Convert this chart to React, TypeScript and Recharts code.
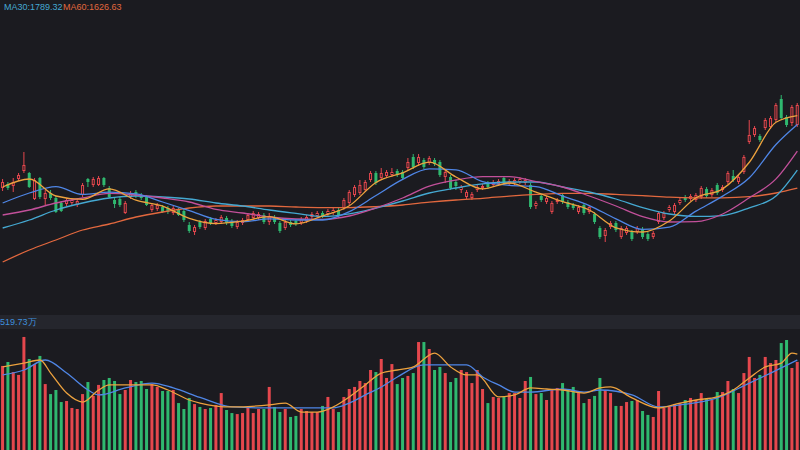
import React from 'react';
import { ComposedChart, Bar, Line, XAxis, YAxis, Cell } from 'recharts';

// ---------- data (price in index points, volume in 万) ----------
const opens = [
  1628, 1664, 1646, 1709, 1781, 1763, 1529, 1718, 1529, 1583,
  1538, 1493, 1484, 1493, 1475, 1565, 1709, 1655, 1655, 1718,
  1628, 1520, 1529, 1403, 1547, 1592, 1565, 1547, 1430, 1439,
  1457, 1448, 1403, 1430, 1421, 1295, 1232, 1322, 1268, 1349,
  1313, 1322, 1358, 1331, 1277, 1313, 1340, 1358, 1358, 1385,
  1322, 1367, 1313, 1268, 1322, 1331, 1313, 1331, 1367, 1376,
  1403, 1394, 1403, 1430, 1448, 1493, 1565, 1583, 1610, 1700,
  1763, 1718, 1736, 1745, 1781, 1772, 1808, 1907, 1853, 1880,
  1853, 1880, 1862, 1727, 1727, 1682, 1610, 1547, 1538, 1610,
  1628, 1673, 1655, 1664, 1718, 1664, 1673, 1682, 1673, 1655,
  1466, 1556, 1502, 1412, 1502, 1565, 1502, 1475, 1412, 1475,
  1412, 1394, 1268, 1196, 1277, 1313, 1187, 1223, 1232, 1232,
  1259, 1214, 1187, 1322, 1358, 1430, 1412, 1493, 1547, 1529,
  1520, 1547, 1619, 1565, 1655, 1610, 1682, 1736, 1682, 1772,
  2042, 2105, 2096, 2168, 2177, 2240, 2429, 2267, 2213, 2195,
];
const closes = [
  1682, 1628, 1682, 1745, 1835, 1637, 1700, 1547, 1583, 1538,
  1412, 1421, 1520, 1520, 1511, 1655, 1682, 1709, 1718, 1655,
  1547, 1484, 1475, 1493, 1583, 1556, 1538, 1475, 1475, 1475,
  1412, 1412, 1448, 1385, 1340, 1241, 1277, 1277, 1331, 1313,
  1340, 1367, 1313, 1286, 1322, 1340, 1385, 1403, 1394, 1322,
  1376, 1322, 1241, 1322, 1295, 1304, 1349, 1367, 1394, 1403,
  1376, 1421, 1430, 1376, 1520, 1592, 1637, 1655, 1682, 1763,
  1673, 1763, 1772, 1772, 1745, 1718, 1862, 1817, 1907, 1817,
  1898, 1844, 1745, 1772, 1628, 1646, 1637, 1592, 1574, 1637,
  1646, 1637, 1682, 1691, 1673, 1691, 1700, 1709, 1700, 1457,
  1493, 1520, 1538, 1493, 1520, 1502, 1457, 1448, 1457, 1403,
  1457, 1322, 1187, 1250, 1313, 1250, 1268, 1268, 1169, 1268,
  1187, 1169, 1223, 1403, 1403, 1457, 1475, 1520, 1520, 1556,
  1565, 1628, 1556, 1610, 1583, 1637, 1763, 1700, 1727, 1907,
  2105, 2168, 2060, 2240, 2258, 2375, 2258, 2195, 2357, 2375,
];
const highs = [
  1709, 1682, 1718, 1763, 1952, 1772, 1718, 1727, 1610, 1610,
  1556, 1511, 1538, 1538, 1538, 1673, 1718, 1727, 1736, 1727,
  1646, 1547, 1547, 1511, 1601, 1610, 1583, 1565, 1493, 1493,
  1475, 1466, 1466, 1448, 1439, 1322, 1295, 1340, 1349, 1367,
  1358, 1385, 1376, 1349, 1340, 1358, 1403, 1421, 1412, 1403,
  1403, 1385, 1331, 1340, 1340, 1349, 1367, 1385, 1412, 1421,
  1421, 1439, 1448, 1448, 1538, 1610, 1655, 1700, 1700, 1781,
  1781, 1808, 1790, 1808, 1799, 1790, 1898, 1934, 1934, 1898,
  1916, 1898, 1880, 1790, 1745, 1700, 1655, 1610, 1592, 1655,
  1664, 1691, 1700, 1709, 1736, 1709, 1718, 1727, 1718, 1673,
  1511, 1574, 1556, 1511, 1538, 1583, 1520, 1493, 1475, 1493,
  1475, 1412, 1286, 1268, 1331, 1331, 1286, 1286, 1250, 1286,
  1277, 1232, 1241, 1421, 1421, 1475, 1493, 1538, 1565, 1574,
  1583, 1646, 1637, 1628, 1673, 1655, 1781, 1790, 1745, 1925,
  2240, 2186, 2114, 2258, 2276, 2393, 2465, 2285, 2375, 2393,
];
const lows = [
  1601, 1610, 1592, 1691, 1763, 1628, 1520, 1529, 1475, 1520,
  1403, 1412, 1466, 1475, 1457, 1547, 1637, 1637, 1646, 1637,
  1538, 1448, 1457, 1394, 1529, 1538, 1520, 1466, 1412, 1421,
  1403, 1394, 1385, 1376, 1322, 1223, 1205, 1259, 1250, 1295,
  1295, 1304, 1295, 1268, 1259, 1295, 1322, 1340, 1340, 1304,
  1295, 1304, 1223, 1250, 1277, 1286, 1295, 1313, 1349, 1358,
  1358, 1376, 1385, 1358, 1430, 1475, 1547, 1565, 1592, 1682,
  1655, 1700, 1718, 1727, 1727, 1700, 1790, 1799, 1826, 1799,
  1835, 1826, 1727, 1673, 1610, 1610, 1583, 1529, 1520, 1592,
  1610, 1619, 1637, 1646, 1655, 1646, 1655, 1664, 1655, 1439,
  1439, 1502, 1484, 1394, 1484, 1484, 1439, 1430, 1394, 1385,
  1394, 1304, 1169, 1142, 1259, 1232, 1169, 1205, 1151, 1214,
  1169, 1151, 1169, 1304, 1340, 1412, 1394, 1475, 1502, 1511,
  1502, 1529, 1538, 1547, 1565, 1592, 1664, 1682, 1664, 1754,
  2024, 2087, 2042, 2150, 2159, 2222, 2240, 2177, 2186, 2177,
];
const volumes = [
  496, 519, 460, 443, 667, 537, 507, 555, 389, 330,
  354, 283, 289, 248, 242, 330, 401, 319, 384, 413,
  425, 407, 330, 354, 413, 401, 407, 360, 389, 372,
  348, 348, 354, 277, 242, 307, 271, 254, 242, 248,
  266, 336, 236, 218, 212, 218, 254, 218, 242, 242,
  372, 254, 224, 242, 195, 201, 242, 230, 224, 224,
  260, 313, 242, 224, 313, 360, 372, 407, 395, 472,
  460, 537, 425, 507, 389, 425, 437, 454, 637, 637,
  596, 472, 490, 454, 401, 425, 472, 460, 395, 472,
  360, 277, 313, 307, 313, 336, 336, 307, 407, 431,
  330, 336, 295, 360, 366, 395, 354, 372, 336, 277,
  301, 319, 425, 354, 336, 260, 260, 283, 289, 295,
  230, 207, 195, 348, 248, 254, 271, 277, 295, 307,
  295, 336, 301, 295, 342, 342, 407, 360, 336, 454,
  549, 425, 443, 549, 513, 531, 631, 649, 484, 520,
];

// moving-average readings, taken at these candle indexes
const maIdx = [0, 5, 10, 15, 20, 25, 30, 35, 40, 45, 50, 55, 60, 65, 70, 75, 80, 85, 90, 95, 100, 105, 110, 115, 120, 125, 130, 135, 140, 145, 149];
const ma5 = [1637, 1709, 1556, 1525, 1620, 1518, 1465, 1355, 1308, 1330, 1370, 1305, 1378, 1468, 1678, 1765, 1860, 1727, 1620, 1673, 1590, 1505, 1430, 1270, 1232, 1331, 1540, 1620, 1860, 2220, 2280];
const ma10 = [1493, 1583, 1640, 1570, 1590, 1575, 1502, 1425, 1345, 1325, 1350, 1340, 1340, 1415, 1560, 1705, 1800, 1792, 1685, 1652, 1640, 1555, 1470, 1350, 1255, 1275, 1420, 1555, 1720, 2020, 2200];
const ma20 = [1385, 1430, 1493, 1538, 1580, 1565, 1538, 1502, 1435, 1403, 1367, 1349, 1345, 1376, 1448, 1538, 1645, 1700, 1730, 1730, 1685, 1637, 1556, 1466, 1370, 1322, 1325, 1394, 1540, 1710, 1960];
const ma30 = [1268, 1340, 1430, 1493, 1538, 1556, 1547, 1529, 1493, 1466, 1430, 1400, 1372, 1395, 1448, 1511, 1583, 1628, 1665, 1682, 1682, 1637, 1592, 1529, 1452, 1394, 1372, 1380, 1450, 1556, 1789.32];
const ma60 = [962, 1070, 1160, 1250, 1304, 1367, 1412, 1448, 1466, 1466, 1466, 1457, 1452, 1452, 1460, 1475, 1500, 1520, 1535, 1555, 1570, 1580, 1580, 1570, 1560, 1545, 1540, 1540, 1550, 1583, 1626.63];

const volMa5Idx = [0, 4, 7, 9, 12, 15, 18, 20, 24, 28, 31, 35, 37, 43, 50, 53, 56, 59, 62, 65, 68, 71, 74, 77, 81, 84, 87, 89, 93, 96, 99, 102, 105, 109, 112, 114, 118, 123, 127, 130, 134, 137, 140, 143, 146, 148, 149];
const volMa5 = [490, 513, 531, 454, 336, 283, 354, 384, 384, 384, 354, 295, 277, 254, 266, 277, 224, 224, 254, 313, 384, 454, 472, 490, 572, 490, 443, 443, 313, 325, 366, 360, 354, 336, 366, 372, 307, 248, 277, 295, 313, 354, 425, 490, 513, 572, 566];
const volMa10Idx = [0, 4, 8, 12, 16, 18, 23, 28, 32, 37, 43, 50, 56, 62, 65, 68, 71, 74, 79, 87, 90, 93, 96, 99, 105, 109, 112, 118, 123, 127, 134, 140, 144, 149];
const volMa10 = [443, 472, 531, 454, 354, 325, 366, 395, 366, 310, 254, 248, 248, 248, 277, 325, 372, 431, 502, 502, 431, 384, 342, 342, 360, 342, 354, 325, 254, 266, 307, 395, 454, 531];

const legendTexts = ['MA30:1789.32', 'MA60:1626.63'];
const volLabel = '519.73万';

// ---------- styling ----------
const BG = '#1b1b20';
const BAND = '#25262d';
const RED = '#e5474d';
const GREEN = '#2fb86f';
const C_MA5 = '#eda23e';
const C_MA10 = '#4f86e6';
const C_MA20 = '#c2509a';
const C_MA30 = '#45a9d2';
const C_MA60 = '#e2683e';

const at = (idx: number[], arr: number[], i: number) => {
  const k = idx.indexOf(i);
  return k >= 0 ? arr[k] : null;
};

const data = closes.map((c, i) => ({
  i,
  open: opens[i],
  high: highs[i],
  low: lows[i],
  close: c,
  vol: volumes[i],
  ma5: at(maIdx, ma5, i),
  ma10: at(maIdx, ma10, i),
  ma20: at(maIdx, ma20, i),
  ma30: at(maIdx, ma30, i),
  ma60: at(maIdx, ma60, i),
  vma5: at(volMa5Idx, volMa5, i),
  vma10: at(volMa10Idx, volMa10, i),
}));

const Candle = (props: any) => {
  const { x, y, width, height, payload } = props;
  if (!payload || height === undefined) return null;
  const { open, close, high, low } = payload;
  const top = Math.min(y, y + height);
  const h = Math.abs(height);
  const span = high - low || 1;
  const pix = (v: number) => top + ((high - v) / span) * h;
  const up = close >= open;
  const color = up ? RED : GREEN;
  const cx = x + width / 2;
  const bt = pix(Math.max(open, close));
  const bb = pix(Math.min(open, close));
  if (up) {
    return (
      <g>
        <line x1={cx} x2={cx} y1={top} y2={bt} stroke={color} strokeWidth={1} />
        <line x1={cx} x2={cx} y1={bb} y2={top + h} stroke={color} strokeWidth={1} />
        <rect x={x + 0.5} y={bt + 0.5} width={Math.max(width - 1, 1)} height={Math.max(bb - bt - 1, 0.6)} fill={BG} stroke={color} strokeWidth={1} />
      </g>
    );
  }
  return (
    <g>
      <line x1={cx} x2={cx} y1={top} y2={top + h} stroke={color} strokeWidth={1} />
      <rect x={x} y={bt} width={width} height={Math.max(bb - bt, 1)} fill={color} />
    </g>
  );
};

const maLine = (key: string, color: string) => (
  <Line key={key} type="monotone" dataKey={key} stroke={color} strokeWidth={1.3} dot={false} activeDot={false} connectNulls isAnimationActive={false} />
);

export default function App() {
  return (
    <div style={{ position: 'absolute', left: 0, top: 0, width: 800, height: 450, background: BG, overflow: 'hidden', fontFamily: '"Liberation Sans", Arial, sans-serif' }}>
      <div style={{ position: 'absolute', left: 0, top: 0 }}>
        <ComposedChart width={800} height={315} data={data} margin={{ top: 20, right: 0, bottom: 10, left: 0 }} barCategoryGap="20%">
          <XAxis dataKey="i" hide />
          <YAxis hide domain={[575, 3140]} allowDataOverflow />
          <Bar dataKey={(d: any) => [d.low, d.high]} shape={<Candle />} isAnimationActive={false} />
          {maLine('ma60', C_MA60)}
          {maLine('ma30', C_MA30)}
          {maLine('ma20', C_MA20)}
          {maLine('ma10', C_MA10)}
          {maLine('ma5', C_MA5)}
        </ComposedChart>
      </div>
      <div style={{ position: 'absolute', left: 4, top: 2, fontSize: 9, lineHeight: '11px', color: C_MA30, whiteSpace: 'nowrap' }}>{legendTexts[0]}</div>
      <div style={{ position: 'absolute', left: 63, top: 2, fontSize: 9, lineHeight: '11px', color: C_MA60, whiteSpace: 'nowrap' }}>{legendTexts[1]}</div>
      <div style={{ position: 'absolute', left: 0, top: 315, width: 800, height: 14, background: BAND }} />
      <div style={{ position: 'absolute', left: 0, top: 316, fontSize: 9, lineHeight: '12px', color: '#3f8fdc', whiteSpace: 'nowrap' }}>{volLabel}</div>
      <div style={{ position: 'absolute', left: 0, top: 329 }}>
        <ComposedChart width={800} height={121} data={data} margin={{ top: 1, right: 0, bottom: 0, left: 0 }} barCategoryGap="20%">
          <XAxis dataKey="i" hide />
          <YAxis hide domain={[0, 708]} allowDataOverflow />
          <Bar dataKey="vol" isAnimationActive={false}>
            {data.map((d) => (
              <Cell key={d.i} fill={d.close >= d.open ? RED : GREEN} />
            ))}
          </Bar>
          {maLine('vma10', C_MA10)}
          {maLine('vma5', C_MA5)}
        </ComposedChart>
      </div>
    </div>
  );
}
